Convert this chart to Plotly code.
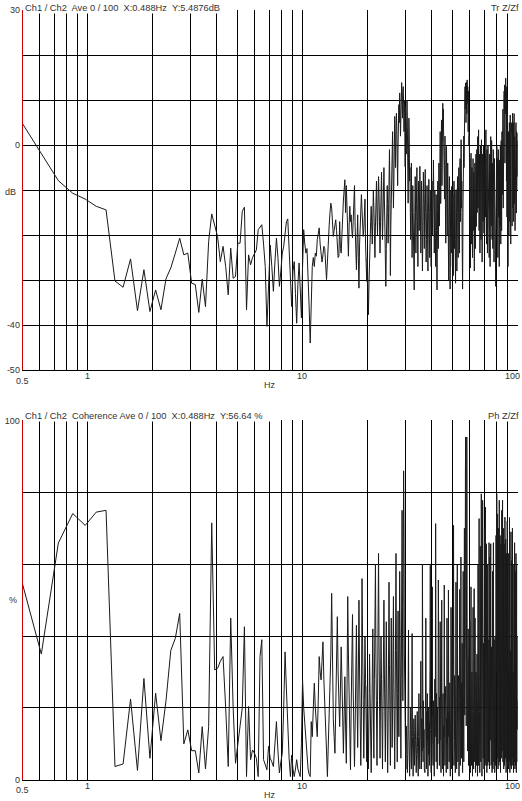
import math
import plotly.graph_objects as go

# ---------------- data ----------------
FREQ_STEP_HZ = 0.12207      # FFT bin spacing
FIRST_BIN = 4               # first plotted bin (0.488 Hz)

# Transfer function magnitude, dB (one value per bin)
TRANSFER_DB = [
    5.5, -1.8, -7.9, -10.7, -12.0, -13.6, -14.4, -30.2, -31.6, -25.3,
    -36.8, -27.7, -37.0, -32.2, -36.6, -29.7, -27.3, -24.0, -20.7, -24.4,
    -24.0, -30.7, -31.0, -37.2, -29.8, -35.9, -21.4, -15.3, -18.0, -20.3,
    -25.9, -22.5, -27.0, -33.3, -22.9, -29.6, -29.2, -21.8, -21.8, -14.7,
    -13.8, -36.6, -24.4, -26.6, -25.0, -24.0, -23.3, -18.8, -18.1, -17.7,
    -22, -27, -40.3, -30, -22.2, -27, -32.5, -26, -20.7, -25,
    -31.4, -28, -24, -22.5, -19, -17, -16.4, -24, -30, -35.9,
    -28, -25.9, -33, -39.6, -31, -26.2, -32, -38.4, -27, -18.8,
    -22, -24, -23, -28, -36, -44, -33, -27, -25, -27,
    -24, -24.7, -21, -19, -18.4, -22, -24, -26, -24.4, -22.5,
    -23, -27, -29.9, -26, -20, -18, -15, -12.9, -14, -17,
    -20.3, -19, -17, -16.6, -19, -22, -25, -24.7, -17, -23,
    -24, -20, -14, -12.2, -10, -7.7, -15, -9, -14, -20,
    -24.7, -18, -13.6, -17, -15.5, -19, -20.6, -17, -12, -9,
    -18, -25.5, -27.7, -21, -15.5, -25, -31.8, -22, -18, -15.9,
    -11, -14.4, -17, -20.3, -18.8, -14, -12, -22, -27, -30.3,
    -25, -33, -37.7, -31, -24, -21.8, -17, -13.6, -18, -22,
    -16, -10, -14, -21, -25, -18, -12.2, -8, -15, -20,
    -13, -7, -11, -19, -24, -17, -9, -6, -14, -21,
    -16, -8, -5, -12, -18, -26, -31.4, -23, -15, -9,
    -13, -21.8, -15, -6, -1, -10, -29, -18, -12.9, -5,
    -1, 3, -6, -14, -8, 2, 6.4, 1, -5, 3,
    7.1, 4, -3, -9, 0, 6, 9, 5, 11.6, 8,
    2, 9, 12, 13.9, 10, 6, 12, 13, 9, 3,
    10, 7, -4.8, 8.6, 3, -2, 7, 10, 4, -6,
    -12.9, -3, 6, 2, -8, -5, -14, -21, -10, -4,
    -15, -25, -18, -9, -13, -22, -28, -32.2, -20, -12,
    -7, -15, -24, -17, -10, -5, -13, -21, -27, -16,
    -8, -11, -19, -14, -4.7, -10, -18, -24, -15, -8,
    -12, -20, -28, -22, -13, -6, -10, -17, -23, -14,
    -7, -5.4, -12, -19, -26, -21, -15, -9, -14, -22,
    -28, -18, -11, -7.6, -13, -20, -25, -16, -10, -15,
    -22, -27, -17, -12.6, -8, -14, -20, -12, -5, -3.3,
    -9, -16, -24, -18, -10, -15, -21.8, -27, -17, -11,
    -19, -26, -32.2, -24, -14, -8, -16, -23, -12, -4,
    -10, -18, -8, -1, 3, -5, -13, -4, 2, 5.6,
    -2, -9, 0, 6, 9.3, 4, 8, 1, -6, 3.4,
    -4, -12, -3, 2, -8, -16, -21.8, -13, -5, -0.3,
    -7, -14, -20, -11, -4, -9, -17, -24, -30, -20,
    -12, -7, -15, -22, -32, -25, -16, -10, -18, -24,
    -14, -9.2, -13, -21, -27, -17, -11, -20, -29, -22,
    -14, -8, -16, -23, -17, -10, -19, -26, -30.7, -21,
    -13, -9.9, -15, -22, -28, -18, -12, -7, -14, -20,
    -25, -16, -9, -5, -12, -19, -24, -15, -7, -3,
    -10, -17, -11, -4, 1.2, -6, -14, -8, -15, -22,
    -27, -32, -24, -14, -6, -12, -3, 2, -5, 4,
    8, 2, 10, 13, 8, 11, 13.8, 9, 5, 12,
    14, 10, 7, 12, 14.5, 11, 9.3, 13, 8, 3,
    10, 12, 6, 0, -5, 2, -4, -10, -3, -12,
    -20, -27.3, -18, -9, -1.8, -7, -15, -22, -13, -5,
    -10, -18, -25, -16, -8, -3, -11, -19, -14, -6,
    -12, -21, -28, -18, -10, -4, -9, -17, -23, -13,
    -6, -2, -11, -18.1, -12, -5, -1, -8, -15, -7,
    0, 1.9, -6, -14, -8, 0, 3.4, -3, -11, -19,
    -10, -2, -7, -16, -24, -14, -5, 0, -6, -13,
    -21, -12, -4, 1.2, -5, -12, -20, -26, -15, -7,
    -2, -9, -17, -11, -3, 0, -8, -15, -19.6, -10,
    -4, -11, -20, -13, -7, -2, -9, -16, -10, -3,
    3.4, -2, -8, -15, -22, -12, -5, -1, -9, -17,
    -24, -14, -6, 0, -7, -14, -20, -11, -4, -10,
    -18, -25, -16, -8, -2, -9, -17, -27, -19, -10,
    -5, 1.9, -4, -12, -18, -9, -2, 1, -6, -14,
    -21, -12, -4, -9, -16, -23, -13, -6, -1, -8,
    -15, -12.9, -20, -26, -16, -9, -3, -10, -18, -24,
    -14, -7, -12, -20, -27, -31.4, -22, -12, -5, -11,
    -19, -8, -2, -0.3, -7, -15, -9, -3, -11, -19,
    -25, -14, -6, -1, -8, -16, -10, -4, -12, -20,
    -27, -17, -8, -3.3, -10, -18, -13, -5, 0, -7,
    -15, -22, -12, -4, 1, -6, -13, -19, -9, -2,
    3, -4, -11, -3, 2, -5, 4, 8, 1, -14,
    3, 9, 11.6, 6, -10, 7, 12, 8, 3, 10,
    13.4, 9, -4, 11, 14, 12, 7, 13, 14.9, 11,
    6.4, 10, 13, 8, -8, 9, 12, 6, -16, 4,
    8, 1, -20, 2, -8, -17, -27, -18, -9, -2,
    3, -4, -12, -20, -11, -3, 2, 5, -2, -9,
    -17, -10, -2, 4, 6.7, 0, -7, -15, -22, -12,
    -4, 2, -5, -13, -8, 0, 5, -1, -9, -18,
    -11, -3, 3, 7.1, 1, -6, -14, -8, 0, 5,
    -2, -10, -17, -9, -2, 4, 7, 1, -6, -13,
    -7, 1.9, -3, -11, -19, -12, -4, 2, -5, -12,
    -7, 0, 5, -1, -8, -15.1, -9, -2, 3, -3,
    -10, -5, 2.7, -1, -7, -2, 1,
]

# Coherence, % (one value per bin)
COHERENCE_PCT = [
    56.6, 35.0, 65.9, 74.1, 70.8, 74.5, 75.0, 3.7, 4.4, 22.5,
    2.6, 28.2, 6.0, 24.1, 10.9, 22, 36, 39.4, 46.3, 10,
    13.9, 8.1, 8.1, 1.9, 14.8, 3.0, 14.8, 71.5, 30.6, 31,
    33, 34.3, 20, 3.7, 45, 20, 4.6, 10, 14.8, 20,
    42.6, 0.9, 20.4, 5.6, 8.3, 7.4, 6, 0.9, 34.3, 39,
    5.6, 4, 2.8, 9.3, 6, 5, 3.7, 10, 16.2, 8,
    1.9, 5, 7.4, 20, 35.6, 25, 13.9, 6, 0.9, 6.9,
    3, 0.9, 3, 5.6, 3, 1.5, 0.9, 10, 27.8, 20,
    15, 11.1, 6, 3, 1.5, 0.9, 16.2, 12, 20, 26.9,
    20, 14, 12, 22, 34.3, 30, 27.8, 33, 38.4, 28,
    22, 18.5, 8, 0.9, 10, 18, 24.1, 35, 51.9, 30,
    16.7, 12, 7.4, 20, 32, 45.4, 30, 22, 14.8, 25,
    37, 28, 15, 7.4, 18, 28.7, 15, 4.6, 25, 51,
    35, 18, 8, 2.8, 20, 37, 46, 25, 10, 3.7,
    15, 30, 43, 22, 9, 30, 50, 30, 12, 4,
    18, 56, 38, 20, 6, 22, 40, 28, 14, 5,
    26, 12, 3, 18, 35, 24, 9, 2, 15, 30,
    42, 20, 6, 28, 48, 60, 33, 14, 4, 22,
    45, 63, 38, 17, 6, 25, 40, 28, 11, 3,
    19, 36, 50, 30, 13, 5, 24, 44, 27, 10,
    2, 16, 35, 55, 32, 14, 4, 21, 45, 28,
    9, 18, 38, 51, 26, 8, 3, 20, 42, 63,
    36, 15, 5, 24, 47, 30, 12, 33, 58, 40,
    18, 6, 28, 52, 75, 48, 22, 60, 86, 70,
    35, 14, 25,
    8, 3, 15, 12, 6, 2, 7, 18, 41.7, 14,
    9, 1, 5, 14, 20, 11, 3, 16, 40.7, 12,
    6, 1, 10, 17, 13, 4, 8, 18, 11, 5,
    2, 7, 15, 19, 9, 5, 1, 12, 24, 16,
    6, 3, 11, 20, 33, 12, 3, 17, 8, 60,
    15, 5, 22, 9, 14, 3, 10, 2, 14, 25,
    45, 8, 3, 19, 11, 24, 9, 1, 12, 20,
    7, 16, 4, 22, 31, 59.7, 14, 5, 2, 18,
    10, 25, 53.7, 17, 6, 4, 22, 12, 8, 1,
    15, 28, 12, 20, 71.3, 18, 5, 24, 13, 9,
    3, 20, 10, 26, 55.6, 14, 6, 16, 4, 23,
    11, 44, 19, 9, 2, 13, 27, 50, 21, 11,
    3, 18, 24, 8, 1, 15, 12, 54.2, 20, 6,
    4, 21, 14, 26, 7, 2, 17, 10, 45, 22,
    10, 3, 19, 12, 52.8, 24, 11, 5, 23, 15,
    27, 6, 1, 14, 20, 48, 18, 9, 3, 18,
    40, 12, 8, 15, 26, 32, 70.8, 21, 4, 24,
    11, 29, 16, 10, 2, 17, 28, 55, 13, 7,
    3, 20, 30, 60, 18, 14, 5, 25, 12, 29,
    9, 1, 16, 31, 53, 19, 11, 4, 22, 32,
    62, 26, 13, 6, 27, 15, 38, 8, 2, 19,
    30, 58, 24, 12, 5, 28, 36, 70, 20, 18,
    33, 40, 85, 95.4, 62, 34, 15, 30, 66, 95.4,
    80.6, 38, 22, 8, 35, 25, 42, 16, 4, 26,
    18, 34, 10, 3, 21, 44, 27, 9, 2, 18,
    33, 53.7, 20, 11, 4, 22, 30, 16, 8, 1,
    15, 34, 48, 19, 10, 3, 19, 28, 53.2, 24,
    13, 5, 24, 45, 17, 9, 2, 16, 30, 21,
    27, 10, 4, 20, 35, 22, 7, 1, 18, 32,
    60, 26, 14, 4, 25, 38, 72.7, 30, 19, 6,
    2, 22, 36, 65, 28, 15, 5, 28, 40, 79.6,
    33, 24, 8, 1, 18, 35, 64, 77.8, 30, 20,
    6, 30, 38, 25, 12, 3, 24, 36, 70, 28,
    18, 5, 26, 40, 75.9, 31, 17, 4, 21, 35,
    65.7, 30, 13, 2, 19, 33, 60, 25, 12, 4,
    28, 39, 27, 16, 5, 23, 36, 66, 29, 14,
    3, 20, 34, 62, 33, 11, 25, 38, 65.7, 30,
    14, 4, 22, 37, 28, 32, 10, 2, 18, 40,
    58, 30, 11, 3, 25, 35, 66, 36, 13, 5,
    21, 39, 27, 34, 12, 2, 17, 31, 40, 29,
    9, 4, 26, 38, 68, 32, 15, 30, 42, 79.6,
    33, 20, 6, 30, 40, 74, 36, 16, 3, 22,
    38, 70, 31, 14, 4, 27, 41, 77.8, 35, 18,
    5, 24, 36, 68, 37, 12, 2, 20, 40, 65.7,
    36, 13, 6, 30, 42, 75, 34, 17, 8, 33,
    41, 77.8, 38, 19, 5, 25, 40, 70, 32, 15,
    3, 21, 39, 65.7, 30, 12, 4, 28, 42, 73.1,
    35, 17, 6, 24, 38, 67, 33, 13, 2, 20,
    40, 63, 35, 11, 5, 29, 42, 72, 36, 16,
    4, 23, 41, 68, 30, 14, 3, 19, 40, 63,
    34, 11, 5, 27, 42, 73, 35, 16, 2, 21,
    38, 66, 36, 12, 4, 25, 41, 69, 33, 14,
    3, 18, 40, 61, 30, 10, 6, 29, 40, 70,
    34, 15, 4, 22, 38, 63, 30, 12, 2, 20,
    36, 60, 32, 10, 5, 27, 40, 66, 33, 13,
    3, 19, 38, 58, 31, 9, 4, 24, 36, 63,
    34, 12, 2, 21, 37, 60, 30, 8, 5, 26,
    40, 36, 14, 22,
]

X_GRID_HZ = [0.6, 0.7, 0.8, 0.9, 1, 2, 3, 4, 5, 6, 7, 8, 9,
             10, 20, 30, 40, 50, 60, 70, 80, 90, 100]
X_TICK_HZ = [0.5, 1, 10, 100]
X_TICK_TEXT = ["0.5", "1", "10", "100"]
X_UNIT = "Hz"

TOP_Y_GRID = [-50, -40, -30, -20, -10, 0, 10, 20, 30]
TOP_Y_TEXT = ["-50", "-40", "", "", "", "0", "", "", "30"]
TOP_Y_UNIT = "dB"
TOP_TITLE = "Ch1 / Ch2  Ave 0 / 100  X:0.488Hz  Y:5.4876dB"
TOP_TAG = "Tr Z/Zf"

BOT_Y_GRID = [0, 20, 40, 60, 80, 100]
BOT_Y_TEXT = ["0", "", "", "", "", "100"]
BOT_Y_UNIT = "%"
BOT_TITLE = "Ch1 / Ch2  Coherence Ave 0 / 100  X:0.488Hz  Y:56.64 %"
BOT_TAG = "Ph Z/Zf"

# ---------------- layout geometry (pixels) ----------------
W, H = 522, 801
S = 0.988          # vertical compensation for the slight shrink seen in the capture


def gx(x):
    return x


def gy(y):
    return 400.5 + (y - 400.5) / S


PL, PR = gx(22.7), gx(517.5)
TOP_T, TOP_B = gy(10), gy(370)
BOT_T, BOT_B = gy(420.5), gy(780)
FONT = "Liberation Sans, Arial, sans-serif"
TXT = "#333333"


def py(ypx):
    return 1 - ypx / H


def px(xpx):
    return xpx / W


def freqs(series):
    return [FREQ_STEP_HZ * (FIRST_BIN + i) for i in range(len(series))]


fig = go.Figure()
fig.add_trace(go.Scatter(x=freqs(TRANSFER_DB), y=TRANSFER_DB, mode="lines",
                         line=dict(color="#1a1a1a", width=1),
                         xaxis="x", yaxis="y", showlegend=False, hoverinfo="skip"))
fig.add_trace(go.Scatter(x=freqs(COHERENCE_PCT), y=COHERENCE_PCT, mode="lines",
                         line=dict(color="#1a1a1a", width=1),
                         xaxis="x2", yaxis="y2", showlegend=False, hoverinfo="skip"))

xcommon = dict(type="log", range=[math.log10(0.5), 2], tickvals=X_GRID_HZ,
               showticklabels=False, ticks="", showgrid=True, gridcolor="black",
               gridwidth=1, showline=True, linecolor="black", linewidth=1,
               zeroline=False, domain=[px(PL), px(PR)], fixedrange=True)
ycommon = dict(showgrid=True, gridcolor="black", gridwidth=1, ticks="",
               showline=True, linecolor="#c80000", linewidth=1, zeroline=False,
               tickfont=dict(family=FONT, size=9, color=TXT), fixedrange=True)

fig.update_layout(
    width=W, height=H, margin=dict(l=0, r=0, t=0, b=0), autosize=False,
    paper_bgcolor="white", plot_bgcolor="white", showlegend=False,
    xaxis=dict(**xcommon, anchor="y"),
    xaxis2=dict(**xcommon, anchor="y2"),
    yaxis=dict(**ycommon, anchor="x", range=[-50, 30], tickvals=TOP_Y_GRID,
               ticktext=TOP_Y_TEXT, domain=[py(TOP_B), py(TOP_T)]),
    yaxis2=dict(**ycommon, anchor="x2", range=[0, 100], tickvals=BOT_Y_GRID,
                ticktext=BOT_Y_TEXT, domain=[py(BOT_B), py(BOT_T)]),
)

ann = []
f9 = dict(family=FONT, size=9, color=TXT)
ft = dict(family=FONT, size=9.3, color=TXT)
for (xref, ybot) in [("x", 370), ("x2", 780)]:
    for hz, txt in zip(X_TICK_HZ, X_TICK_TEXT):
        yoff = 10.5 if hz == 0.5 else 6
        a = dict(x=math.log10(hz), xref=xref, y=py(gy(ybot + yoff)), yref="paper",
                 text=txt, showarrow=False, font=f9, xanchor="center",
                 yanchor="middle")
        if hz == 100:
            a.update(xanchor="right", xshift=4)
        ann.append(a)
    ann.append(dict(x=px(gx(270)), xref="paper", y=py(gy(ybot + 15)), yref="paper",
                    text=X_UNIT, showarrow=False, font=f9, xanchor="center",
                    yanchor="middle"))
# y unit labels
ann.append(dict(x=px(gx(2.5)), xref="paper", y=-10, yref="y", yshift=-2,
                text=TOP_Y_UNIT, showarrow=False, font=f9, xanchor="left", yanchor="middle"))
ann.append(dict(x=px(gx(6.5)), xref="paper", y=50, yref="y2",
                text=BOT_Y_UNIT, showarrow=False, font=f9, xanchor="left", yanchor="middle"))
# panel titles (white box hides the top gridline behind them)
for title, tag, ytxt in [(TOP_TITLE, TOP_TAG, 8), (BOT_TITLE, BOT_TAG, 416.5)]:
    ann.append(dict(x=px(PL + 0.8), xref="paper", y=py(gy(ytxt)), yref="paper",
                    text=title + "   ", showarrow=False, font=ft, xanchor="left",
                    yanchor="middle", bgcolor="white", borderpad=0))
    ann.append(dict(x=px(gx(519.5)), xref="paper", y=py(gy(ytxt)), yref="paper",
                    text=tag, showarrow=False, font=ft, xanchor="right",
                    yanchor="middle", bgcolor="white", borderpad=0))
fig.update_layout(annotations=ann)

fig.write_html(
    "out.html",
    config={"displayModeBar": False, "responsive": False},
    post_script=(
        "document.documentElement.style.margin='0';"
        "document.body.style.margin='0';"
        "document.body.style.overflow='hidden';"
        "document.documentElement.style.overflow='hidden';"
        "var g=document.getElementsByClassName('plotly-graph-div')[0];"
        "g.style.position='fixed';g.style.left='0px';g.style.top='0px';"
    ),
)
